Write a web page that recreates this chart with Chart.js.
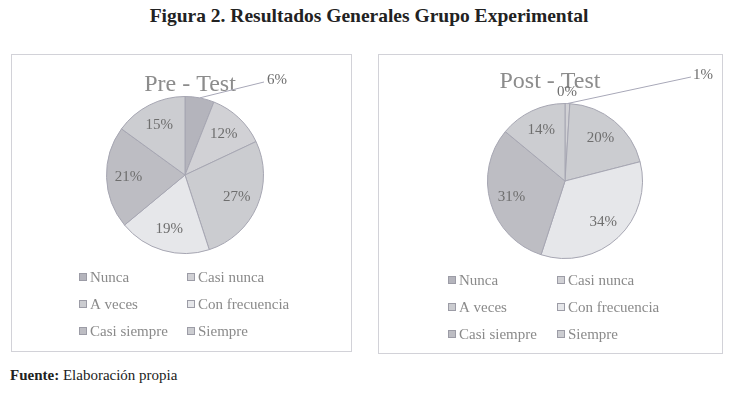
<!DOCTYPE html>
<html>
<head>
<meta charset="utf-8">
<script src="https://cdn.jsdelivr.net/npm/chart.js@4.4.1/dist/chart.umd.min.js"></script>
<style>
  body { margin: 0; background: #fff; width: 738px; height: 393px; position: relative; overflow: hidden; font-family: "Liberation Serif", "Times New Roman", serif; }
  #title { position: absolute; left: 0; width: 738px; top: 5px; text-align: center; font-weight: bold; font-size: 19.5px; color: #222; }
  .box { position: absolute; border: 1px solid #d2d2d8; }
  #foot { position: absolute; left: 10px; top: 367px; font-size: 15px; color: #222; }
</style>
</head>
<body>
<div id="title">Figura 2. Resultados Generales Grupo Experimental</div>
<div class="box" style="left:11px; top:54px;"><canvas id="pre" width="339" height="296"></canvas></div>
<div class="box" style="left:378px; top:54px;"><canvas id="post" width="343" height="298"></canvas></div>
<div id="foot"><b>Fuente:</b> Elaboración propia</div>

<script>
// categories and values (percent)
const categories = ["Nunca", "Casi nunca", "A veces", "Con frecuencia", "Casi siempre", "Siempre"];
const preValues = [6, 12, 27, 19, 21, 15];
const postValues = [0, 1, 20, 34, 31, 14];
const sliceColors = ["#b4b4bc", "#d1d1d5", "#cbccd0", "#e6e7ea", "#bdbdc3", "#cccdd1"];

// draws title, % labels, leader lines and a 2-column legend
const piePainter = {
  id: "piePainter",
  afterDraw(chart, args, opts) {
    const ctx = chart.ctx;
    const meta = chart.getDatasetMeta(0);
    const values = chart.data.datasets[0].data;
    ctx.save();

    ctx.fillStyle = "#8c8c8c";
    ctx.font = "24px 'Liberation Serif'";
    ctx.textAlign = "center";
    ctx.textBaseline = "middle";
    ctx.fillText(opts.title, opts.titleX, opts.titleY);

    ctx.font = "15px 'Liberation Serif'";
    ctx.fillStyle = "#6e6e6e";
    meta.data.forEach((arc, i) => {
      const p = arc.getProps(["x", "y", "startAngle", "endAngle", "outerRadius"], true);
      const mid = (p.startAngle + p.endAngle) / 2;
      const out = opts.outside[i];
      if (out) {
        const ex = p.x + Math.cos(mid) * p.outerRadius;
        const ey = p.y + Math.sin(mid) * p.outerRadius;
        if (out.line) {
          ctx.strokeStyle = "#a8a8b8";
          ctx.lineWidth = 1;
          ctx.beginPath();
          ctx.moveTo(ex, ey);
          ctx.lineTo(p.x + out.line[0], p.y + out.line[1]);
          ctx.stroke();
          ctx.textAlign = "left";
        } else {
          ctx.textAlign = "center";
        }
        ctx.fillText(values[i] + "%", p.x + out.at[0], p.y + out.at[1]);
      } else {
        const r = p.outerRadius * 0.72;
        ctx.textAlign = "center";
        ctx.fillText(values[i] + "%", p.x + Math.cos(mid) * r, p.y + Math.sin(mid) * r);
      }
    });

    ctx.font = "15px 'Liberation Serif'";
    ctx.textAlign = "left";
    chart.data.labels.forEach((lab, i) => {
      const col = i % 2, row = Math.floor(i / 2);
      const x = opts.legendX[col];
      const y = opts.legendY + row * 27;
      ctx.fillStyle = sliceColors[i];
      ctx.fillRect(x, y - 4, 8, 8);
      ctx.strokeStyle = "#9c9ca6";
      ctx.strokeRect(x + 0.5, y - 3.5, 7, 7);
      ctx.fillStyle = "#8a8a8a";
      ctx.fillText(lab, x + 11, y + 1);
    });
    ctx.restore();
  }
};

function makePie(id, values, padding, painter) {
  return new Chart(document.getElementById(id), {
    type: "pie",
    data: {
      labels: categories,
      datasets: [{
        data: values,
        backgroundColor: sliceColors,
        borderColor: "#a6a6b2",
        borderWidth: 1,
      }],
    },
    options: {
      responsive: false,
      animation: false,
      layout: { padding: padding },
      plugins: {
        legend: { display: false },
        tooltip: { enabled: false },
        piePainter: painter,
      },
    },
    plugins: [piePainter],
  });
}

makePie("pre", preValues, { left: 94, right: 87, top: 41, bottom: 97 }, {
  title: "Pre - Test", titleX: 178, titleY: 30,
  outside: { 0: { line: [79, -93], at: [82, -95] } },
  legendX: [67, 175], legendY: 222,
});

makePie("post", postValues, { left: 108, right: 79, top: 48, bottom: 94 }, {
  title: "Post - Test", titleX: 171, titleY: 27,
  outside: { 0: { at: [2, -89] }, 1: { line: [126, -104], at: [128, -106] } },
  legendX: [69, 178], legendY: 225,
});
</script>
</body>
</html>
